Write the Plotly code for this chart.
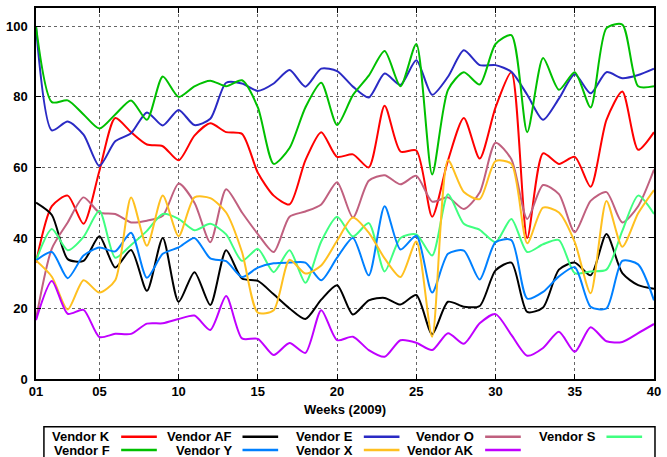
import plotly.graph_objects as go

weeks = list(range(1, 41))
x_tick_vals = [1, 5, 10, 15, 20, 25, 30, 35, 40]
x_tick_text = ["01", "05", "10", "15", "20", "25", "30", "35", "40"]
y_tick_vals = [0, 20, 40, 60, 80, 100]

vendor_k = [33, 49, 52, 44, 59, 74, 70, 66.5, 66, 62, 69, 72.5, 70, 69.5, 58.5, 52, 49.5, 62, 70, 63,
            63.7, 60, 77.5, 64.5, 64.8, 46, 62, 74, 62.5, 77, 87, 40, 64, 61, 63, 54.5, 73.5, 81.5, 65, 70]
vendor_af = [50, 46.5, 34, 33.5, 40.5, 31.6, 36.6, 25, 40, 21.9, 30.3, 21, 36.5, 28.5, 27.8, 24, 20, 17, 22.5, 26.6,
             18.3, 22.3, 23, 21.1, 23.8, 12.7, 21.9, 20.5, 20.7, 30.8, 33, 19, 20.3, 31, 33, 29.4, 41.1, 30, 26.6, 25.6]
vendor_e = [100, 70.5, 73, 69.3, 60.4, 67.4, 69.7, 75.6, 71.9, 76.3, 72, 73.8, 84, 83.8, 81.7, 83.8, 87.6, 82.9, 88, 87.3,
            82.9, 79.8, 86.6, 83.4, 90.4, 80.6, 85.7, 93.2, 89, 89, 87.1, 80.6, 73.5, 79.5, 86.4, 81, 87, 85.3, 86.2, 88]
vendor_o = [17, 37, 44.4, 51.5, 47.2, 46.8, 44.4, 44.9, 46.3, 55.4, 50, 38.8, 53.8, 47.2, 41.1, 36, 46, 47.5, 49.5, 55.8,
            45.8, 56.2, 57.8, 55.2, 57.6, 50.3, 51.5, 48.2, 52.9, 67, 62.3, 45.4, 55, 52.4, 41.6, 50.5, 53, 44.4, 49, 59.4]
vendor_s = [33.6, 42.5, 36.5, 40.3, 47.7, 34.4, 38, 42, 46.8, 45.4, 42.2, 44, 41, 33.5, 36.9, 30.3, 36.5, 27.3, 39, 46,
            40.4, 44.2, 30.5, 40, 41, 35, 52.4, 44, 42.3, 38.8, 45.4, 36, 38.2, 39.4, 30, 30.5, 31, 42, 52, 46.8]
vendor_f = [100, 78.5, 79, 75, 71, 75, 79, 73.5, 85.8, 80, 83, 84.6, 83, 84.7, 77, 61, 65.5, 77, 84, 72,
            80.5, 86, 93, 83, 95, 58, 82, 87, 83.5, 95, 97.5, 70, 91, 82, 87, 77, 99.5, 100.5, 83, 83]
vendor_y = [33.6, 36, 28.6, 35, 37.3, 36.2, 41.5, 28.7, 35.5, 37.3, 40, 34.2, 33.4, 28.9, 31.6, 32.8, 33, 33, 28, 34.4,
            40, 29.4, 49, 36.7, 40.6, 24.5, 35.5, 36.4, 28.2, 38.8, 39.4, 22.8, 24.7, 29.1, 31.7, 20.5, 20, 33.5, 32.5, 22.3]
vendor_x = [33.6, 29, 19.7, 28, 24.5, 28, 51.5, 37.8, 52, 40.5, 51.5, 51.3, 47.2, 36, 18.8, 19.5, 33.8, 29.9, 32.2, 39.2,
            45.8, 41.5, 34.2, 28.9, 39, 12, 62, 53, 51, 61.8, 61, 38.5, 48.6, 47.2, 38.8, 24.3, 50.5, 37.5, 47, 53.6]
vendor_ak = [16.7, 27.8, 18.5, 19.6, 11.9, 12.8, 12.8, 15.7, 15.8, 17, 18, 13.9, 23.5, 11.5, 11.4, 6.8, 10.2, 7.4, 19.5, 11,
             12, 8.2, 6.3, 11, 10.3, 8.2, 13, 10, 15.8, 18.4, 12.5, 6.6, 8.8, 13.4, 7.7, 14.7, 10.7, 10.5, 13, 15.6]

series_names = ["Vendor K", "Vendor AF", "Vendor E", "Vendor O", "Vendor S",
                "Vendor F", "Vendor Y", "Vendor X", "Vendor AK"]
series_values = [vendor_k, vendor_af, vendor_e, vendor_o, vendor_s,
                 vendor_f, vendor_y, vendor_x, vendor_ak]
series_colors = ["#ff0000", "#000000", "#2a2ac4", "#c0607f", "#40ff80",
                 "#00c000", "#0080ff", "#ffc020", "#c000ff"]

W, H = 667, 457
L, R, T, B = 35, 8, 6, 78
pw, ph = W - L - R, H - T - B

fig = go.Figure()
for name, vals, col in zip(series_names, series_values, series_colors):
    fig.add_trace(go.Scatter(x=weeks, y=vals, name=name, mode="lines",
                             line=dict(color=col, width=2, shape="spline", smoothing=0.7),
                             showlegend=False))

font_b = dict(family="Liberation Sans, Arial, sans-serif", size=13, color="black", weight="bold")

def px2paper_x(px):
    return (px - L) / pw

def px2paper_y(py):
    return (H - B - py) / ph

shapes = []
annotations = []
# legend box
shapes.append(dict(type="rect", xref="paper", yref="paper",
                   x0=px2paper_x(43), x1=px2paper_x(660), y0=px2paper_y(470), y1=px2paper_y(427),
                   line=dict(color="black", width=1.5), fillcolor="rgba(0,0,0,0)"))
for i, (name, col) in enumerate(zip(series_names, series_colors)):
    row, c = divmod(i, 5)
    ty = 437 + row * 13.5
    text_right = 112 + 122.5 * c
    annotations.append(dict(text=name, xref="paper", yref="paper", x=px2paper_x(text_right),
                            y=px2paper_y(ty), xanchor="right", yanchor="middle", showarrow=False,
                            font=font_b))
    shapes.append(dict(type="line", xref="paper", yref="paper",
                       x0=px2paper_x(text_right + 9), x1=px2paper_x(text_right + 45),
                       y0=px2paper_y(ty), y1=px2paper_y(ty), line=dict(color=col, width=2.5)))

annotations.append(dict(text="Weeks (2009)", xref="paper", yref="paper", x=0.5, y=px2paper_y(410),
                        xanchor="center", yanchor="middle", showarrow=False, font=font_b))

fig.update_layout(
    width=W, height=H, margin=dict(l=L, r=R, t=T, b=B),
    paper_bgcolor="white", plot_bgcolor="white",
    shapes=shapes, annotations=annotations,
    xaxis=dict(range=[1, 40], tickvals=x_tick_vals, ticktext=x_tick_text, showgrid=True,
               gridcolor="#666", griddash="dot", gridwidth=1, showline=True, mirror="ticks",
               linecolor="black", linewidth=1.5, ticks="inside", ticklen=5, tickcolor="black",
               tickfont=font_b, zeroline=False),
    yaxis=dict(range=[0, 105.2], tickvals=y_tick_vals, showgrid=True,
               gridcolor="#666", griddash="dot", gridwidth=1, showline=True, mirror="ticks",
               linecolor="black", linewidth=1.5, ticks="inside", ticklen=5, tickcolor="black",
               tickfont=font_b, zeroline=False, ticklabelstandoff=4),
)

fig.write_html("out.html", config={"displayModeBar": False},
               post_script="document.body.style.margin='0';document.body.style.padding='0';document.body.style.overflow='hidden';")
